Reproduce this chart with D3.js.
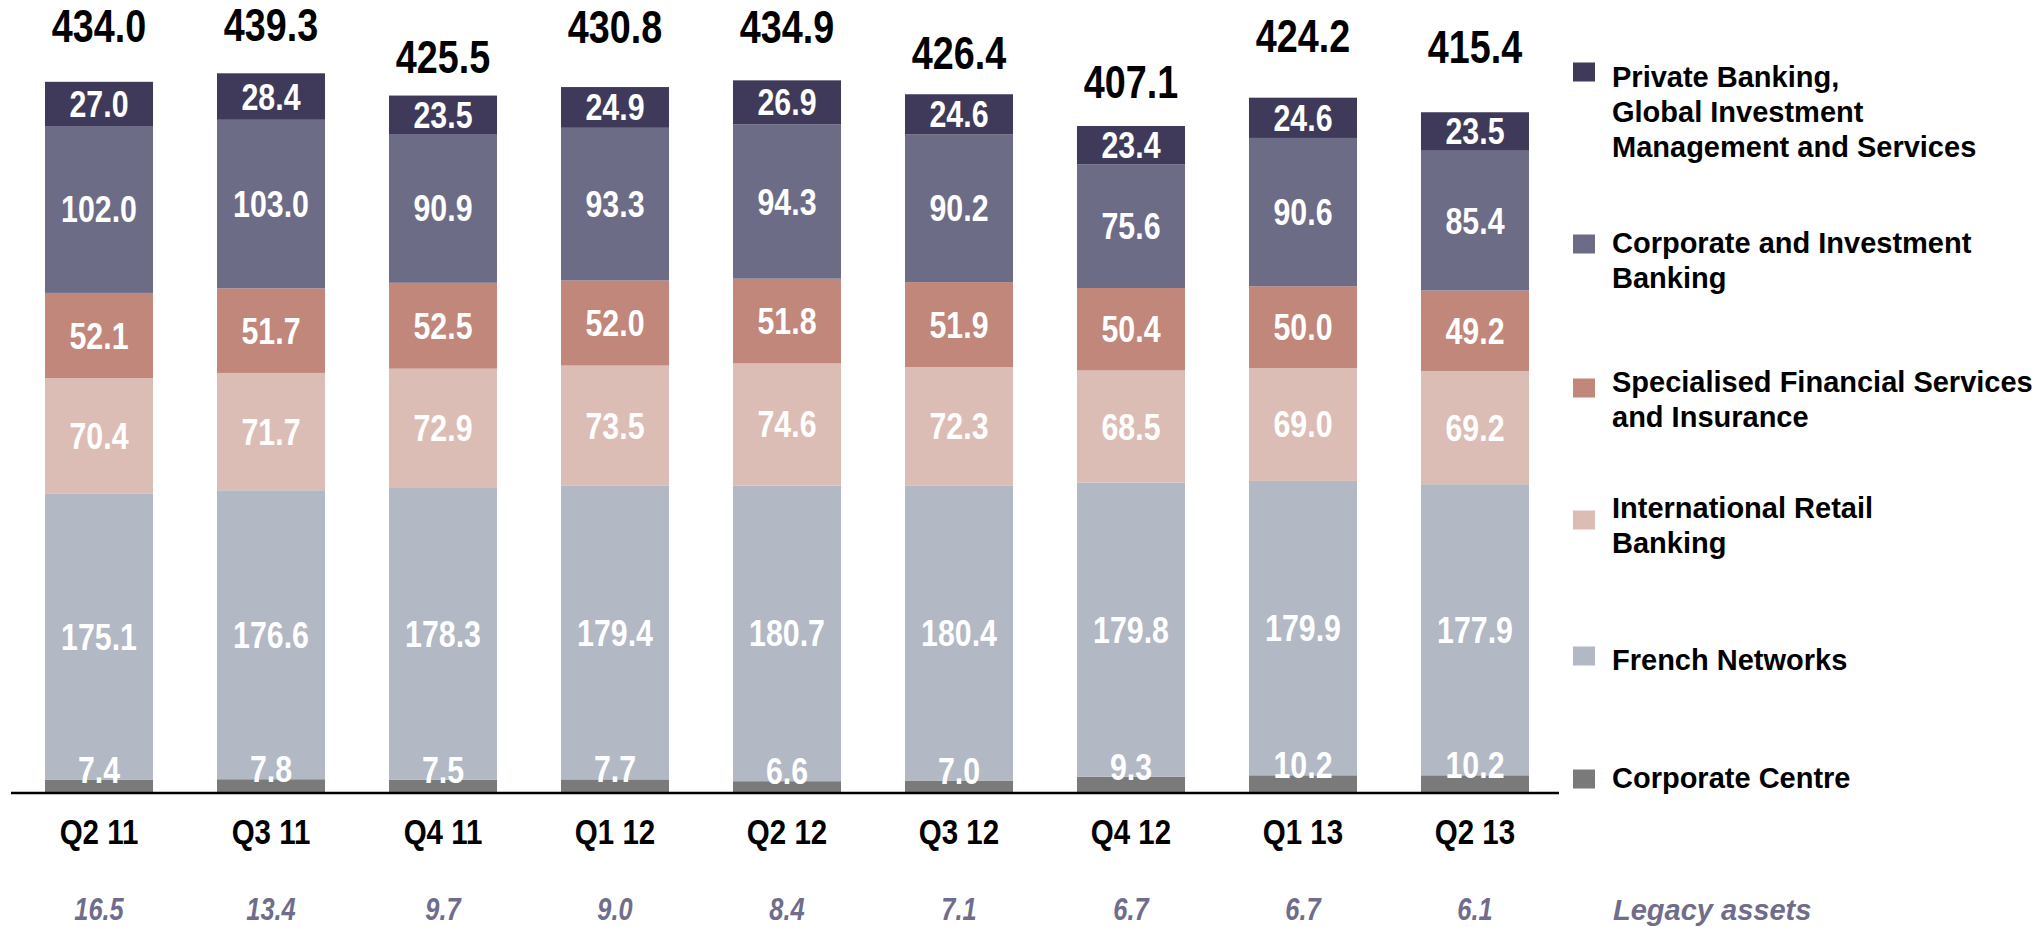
<!DOCTYPE html>
<html>
<head>
<meta charset="utf-8">
<script src="https://cdn.jsdelivr.net/npm/d3@7"></script>
<style>
  body { margin: 0; background: #fff; }
  text { font-family: "Liberation Sans", Arial, sans-serif; font-weight: bold; }
</style>
</head>
<body>
<div id="chart"></div>
<script>
// data (EUR bn)
const quarters = ["Q2 11", "Q3 11", "Q4 11", "Q1 12", "Q2 12", "Q3 12", "Q4 12", "Q1 13", "Q2 13"];
const corporateCentre = [7.4, 7.8, 7.5, 7.7, 6.6, 7.0, 9.3, 10.2, 10.2];
const frenchNetworks = [175.1, 176.6, 178.3, 179.4, 180.7, 180.4, 179.8, 179.9, 177.9];
const intlRetail = [70.4, 71.7, 72.9, 73.5, 74.6, 72.3, 68.5, 69.0, 69.2];
const specialised = [52.1, 51.7, 52.5, 52.0, 51.8, 51.9, 50.4, 50.0, 49.2];
const corpInvest = [102.0, 103.0, 90.9, 93.3, 94.3, 90.2, 75.6, 90.6, 85.4];
const privateBanking = [27.0, 28.4, 23.5, 24.9, 26.9, 24.6, 23.4, 24.6, 23.5];
const totals = [434.0, 439.3, 425.5, 430.8, 434.9, 426.4, 407.1, 424.2, 415.4];
const legacyAssets = [16.5, 13.4, 9.7, 9.0, 8.4, 7.1, 6.7, 6.7, 6.1];

const keys = ["cc", "fn", "irb", "sfs", "cib", "pb"];
const colors = {
  pb: "#3f3a59",
  cib: "#6d6c87",
  sfs: "#c0877a",
  irb: "#dcbdb5",
  fn: "#b2b8c4",
  cc: "#7a7a7a"
};
const legendKeys = ["pb", "cib", "sfs", "irb", "fn", "cc"];
const legendLabels = [
  ["Private Banking,", "Global Investment", "Management and Services"],
  ["Corporate and Investment", "Banking"],
  ["Specialised Financial Services", "and Insurance"],
  ["International Retail", "Banking"],
  ["French Networks"],
  ["Corporate Centre"]
];

// layout (hand placed text boxes on the slide)
const totalGap = [40, 32, 23, 44, 37, 25, 28, 46, 49];
const legendTextY = [77, 243, 382, 508, 660, 778];
const legendBoxY = [72, 244, 388, 520, 656, 779];

const width = 2039;
const height = 927;
const baseY = 792;
const narrow = 0.82;

const rows = quarters.map((q, i) => ({
  q,
  cc: corporateCentre[i],
  fn: frenchNetworks[i],
  irb: intlRetail[i],
  sfs: specialised[i],
  cib: corpInvest[i],
  pb: privateBanking[i]
}));
const series = d3.stack().keys(keys)(rows);

const x = d3.scaleBand().domain(quarters).range([45, 1529]).paddingInner(0.372).paddingOuter(0);
const y = d3.scaleLinear().domain([0, 484]).range([baseY, 0]);
const cx = (q) => x(q) + x.bandwidth() / 2;

const svg = d3.select("#chart").append("svg")
  .attr("width", width)
  .attr("height", height);

// condensed text: arial bold squeezed horizontally
function narrowText(g, px, py, str, size, fill, italic) {
  return g.append("text")
    .attr("transform", `translate(${px},${py}) scale(${narrow},1)`)
    .attr("text-anchor", "middle")
    .attr("font-size", size)
    .attr("font-style", italic ? "italic" : null)
    .attr("fill", fill)
    .text(str);
}

// bars
svg.append("g")
  .selectAll("g")
  .data(series)
  .join("g")
  .attr("fill", (s) => colors[s.key])
  .selectAll("rect")
  .data((s) => s)
  .join("rect")
  .attr("x", (d) => x(d.data.q))
  .attr("y", (d) => y(d[1]))
  .attr("width", x.bandwidth())
  .attr("height", (d) => y(d[0]) - y(d[1]));

// segment labels
const lab = svg.append("g");
series.forEach((s) => {
  s.forEach((d) => {
    let py;
    if (s.key == "cc") py = y(d[1]) + 3;
    else py = (y(d[0]) + y(d[1])) / 2 + 13;
    narrowText(lab, cx(d.data.q), py, d.data[s.key].toFixed(1), 37, "#fff");
  });
});

// totals
quarters.forEach((q, i) => {
  narrowText(lab, cx(q), y(totals[i]) - totalGap[i], totals[i].toFixed(1), 46, "#000");
});

// axis line
svg.append("line")
  .attr("x1", 11).attr("x2", 1559)
  .attr("y1", baseY + 1).attr("y2", baseY + 1)
  .attr("stroke", "#000")
  .attr("stroke-width", 2.5);

// category labels
quarters.forEach((q) => {
  narrowText(lab, cx(q), 844, q, 36, "#000");
});

// legacy assets row
quarters.forEach((q, i) => {
  narrowText(lab, cx(q), 920, legacyAssets[i].toFixed(1), 31, "#6f6d8b", true);
});
svg.append("text")
  .attr("x", 1613).attr("y", 920)
  .attr("font-size", 29)
  .attr("font-style", "italic")
  .attr("fill", "#6f6d8b")
  .text("Legacy assets");

// legend
const leg = svg.append("g");
legendKeys.forEach((k, i) => {
  leg.append("rect")
    .attr("x", 1573)
    .attr("y", legendBoxY[i] - 9.5)
    .attr("width", 22)
    .attr("height", 19)
    .attr("fill", colors[k]);
  const t = leg.append("text")
    .attr("x", 1612)
    .attr("y", legendTextY[i] + 10)
    .attr("font-size", 29)
    .attr("fill", "#000");
  legendLabels[i].forEach((line, j) => {
    t.append("tspan")
      .attr("x", 1612)
      .attr("dy", j == 0 ? 0 : 35)
      .text(line);
  });
});
</script>
</body>
</html>
